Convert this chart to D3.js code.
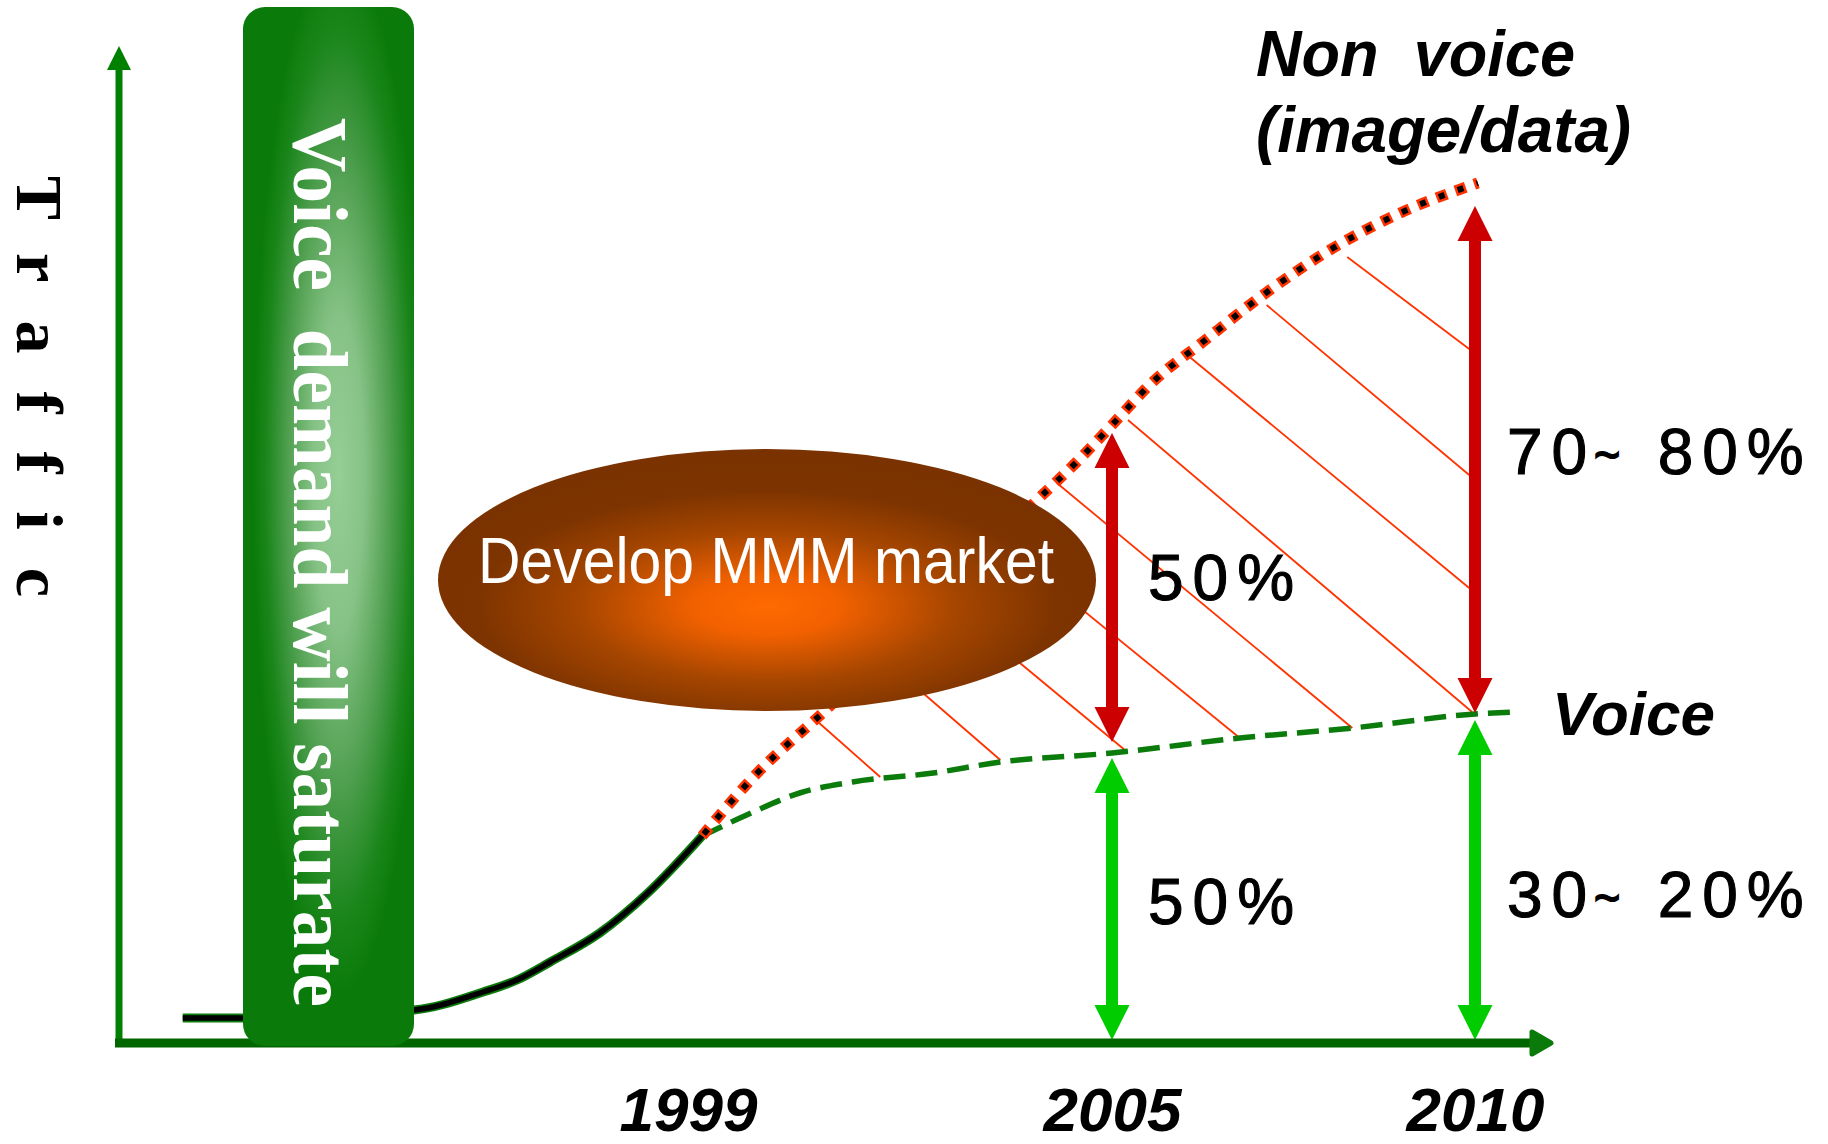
<!DOCTYPE html>
<html>
<head>
<meta charset="utf-8">
<script src="https://cdn.jsdelivr.net/npm/d3@7"></script>
<style>
  html, body { margin: 0; padding: 0; background: #ffffff; }
  svg { display: block; }
  text { white-space: pre; }
</style>
</head>
<body>
<svg id="chart" width="1828" height="1144"></svg>
<script>
// ---- data -------------------------------------------------------------
// Years marked on the time axis
const tickYears = [1999, 2005, 2010];

// Total traffic up to the split (solid line): [year, traffic]
const totalTraffic = [
  [1991.85, 2.5], [1992.7, 2.5], [1995.12, 3.3], [1996.1, 5.1], [1996.58, 6.3],
  [1997.05, 8.1], [1997.75, 11.0], [1998.43, 15.0], [1999.2, 20.7]
];

// Non-voice (image/data) traffic forecast
const nonVoice = [
  [1999.2, 20.7], [1999.98, 27.0], [2000.92, 33.1], [2003.91, 54.1], [2004.5, 58.1],
  [2005.0, 61.8], [2005.56, 66.1], [2006.25, 70.1], [2007.08, 74.8], [2008.0, 79.3],
  [2008.97, 83.0], [2010.04, 86.0]
];

// Voice traffic forecast
const voice = [
  [1999.2, 20.7], [1999.83, 22.8], [2000.58, 25.0], [2001.33, 26.1], [2002.47, 27.0],
  [2003.42, 28.1], [2005.0, 29.0], [2006.76, 30.5], [2008.31, 31.5], [2010.0, 32.9],
  [2010.52, 33.1]
];

// Hatching between the two forecasts: [[year, traffic], [year, traffic]]
const hatch = [
  [[2000.84, 32.1], [2001.72, 26.6]],
  [[2001.72, 38.7], [2003.42, 28.3]],
  [[2002.57, 44.6], [2005.21, 29.1]],
  [[2003.37, 50.3], [2006.76, 30.5]],
  [[2004.22, 56.0], [2008.31, 31.5]],
  [[2005.22, 62.3], [2009.96, 33.1]],
  [[2006.07, 68.6], [2009.92, 45.5]],
  [[2007.13, 73.8], [2009.92, 56.8]],
  [[2008.24, 78.6], [2009.92, 69.4]]
];

// Share arrows: year, lower end, upper end (traffic units), kind
const shareYears  = [2005, 2010, 2005, 2010];
const shareFrom   = [30.1, 33.0, 0.3, 0.3];
const shareTo     = [61.0, 83.7, 28.5, 32.3];
const shareKind   = ["nonvoice", "nonvoice", "voice", "voice"];
// Share labels and the traffic level of their baselines
const shareLabels = ["50%", "70~ 80%", "50%", "30~ 20%"];
const shareLabelLevel = [44.3, 56.9, 11.9, 12.6];

// ---- scales -----------------------------------------------------------
const svg = d3.select("#chart");
const x = d3.scaleLinear().domain(tickYears).range([688, 1112, 1475]);
const y = d3.scaleLinear().domain([0, 100]).range([1043, 43]);
const axisLeft = 119, axisRight = 1554;

const COL_AXIS_Y = "#008000", COL_AXIS_X = "#006600";
const COL_HATCH = "#ff3300", COL_RED = "#cc0000", COL_GREEN = "#00cc00";
const COL_LINE_G = "#0b7b0b";

// ---- gradients --------------------------------------------------------
const defs = svg.append("defs");
const gEll = defs.append("radialGradient").attr("id", "ellFill")
  .attr("cx", 0.5).attr("cy", 0.6).attr("r", 0.55);
[[0, "#ff6a00"], [0.2, "#f26100"], [0.52, "#a64600"], [0.8, "#7e3400"], [1, "#7a3200"]]
  .forEach(([o, c]) => gEll.append("stop").attr("offset", o).attr("stop-color", c));

const gBar = defs.append("radialGradient").attr("id", "barFill")
  .attr("cx", 0.56).attr("cy", 0.45).attr("r", 0.5);
[[0, "#96ce96"], [0.3, "#86c286"], [0.6, "#4f9f4f"], [0.85, "#1b861b"], [1, "#0a7b0a"]]
  .forEach(([o, c]) => gBar.append("stop").attr("offset", o).attr("stop-color", c));

// ---- hatching ---------------------------------------------------------
svg.append("g").selectAll("line").data(hatch).join("line")
  .attr("x1", d => x(d[0][0])).attr("y1", d => y(d[0][1]))
  .attr("x2", d => x(d[1][0])).attr("y2", d => y(d[1][1]))
  .attr("stroke", COL_HATCH).attr("stroke-width", 1.8);

// ---- series lines -----------------------------------------------------
const line = d3.line().x(d => x(d[0])).y(d => y(d[1])).curve(d3.curveMonotoneX);

svg.append("path").attr("d", line(voice))
  .attr("fill", "none").attr("stroke", COL_LINE_G).attr("stroke-width", 5.5)
  .attr("stroke-dasharray", "22 10");

svg.append("path").attr("d", line(nonVoice))
  .attr("fill", "none").attr("stroke", COL_HATCH).attr("stroke-width", 11)
  .attr("stroke-dasharray", "11 9");
svg.append("path").attr("d", line(nonVoice))
  .attr("fill", "none").attr("stroke", "#000").attr("stroke-width", 6)
  .attr("stroke-dasharray", "6 14").attr("stroke-dashoffset", -2.5);

svg.append("path").attr("d", line(totalTraffic))
  .attr("fill", "none").attr("stroke", COL_LINE_G).attr("stroke-width", 9);
svg.append("path").attr("d", line(totalTraffic))
  .attr("fill", "none").attr("stroke", "#000").attr("stroke-width", 5.5);

// ---- "Develop MMM market" ellipse -------------------------------------
svg.append("ellipse").attr("cx", 767).attr("cy", 580).attr("rx", 329).attr("ry", 131)
  .attr("fill", "url(#ellFill)");
svg.append("text").attr("x", 766).attr("y", 583)
  .attr("text-anchor", "middle")
  .attr("font-family", "'Liberation Sans', Arial, sans-serif")
  .attr("font-size", 64).attr("fill", "#fff")
  .attr("textLength", 576).attr("lengthAdjust", "spacingAndGlyphs")
  .text("Develop MMM market");

// ---- share arrows -----------------------------------------------------
function doubleArrow(xc, yTop, yBot) {
  const s = 6, h = 17.5, L = 35;
  return `M${xc},${yTop}L${xc + h},${yTop + L}L${xc + s},${yTop + L}` +
         `L${xc + s},${yBot - L}L${xc + h},${yBot - L}L${xc},${yBot}` +
         `L${xc - h},${yBot - L}L${xc - s},${yBot - L}L${xc - s},${yTop + L}` +
         `L${xc - h},${yTop + L}Z`;
}
svg.append("g").selectAll("path").data(d3.range(shareYears.length)).join("path")
  .attr("d", i => doubleArrow(x(shareYears[i]), y(shareTo[i]), y(shareFrom[i])))
  .attr("fill", i => shareKind[i] === "voice" ? COL_GREEN : COL_RED);

// share labels
const shareText = svg.append("g")
  .attr("font-family", "'Liberation Sans', Arial, sans-serif")
  .attr("font-size", 64).attr("fill", "#000")
  .attr("stroke", "#000").attr("stroke-width", 1.1)
  .attr("letter-spacing", 9)
  .selectAll("text").data(d3.range(shareLabels.length)).join("text")
  .attr("x", i => x(shareYears[i]) + (shareYears[i] === 2005 ? 36 : 32))
  .attr("y", i => y(shareLabelLevel[i]));
shareText.each(function (i) {
  const t = d3.select(this), parts = shareLabels[i].split("~");
  if (parts.length === 1) { t.text(parts[0]); return; }
  t.append("tspan").text(parts[0]);
  t.append("tspan").attr("font-size", 44).attr("dy", -4).attr("dx", -2)
    .attr("stroke-width", 2).text("~");
  t.append("tspan").attr("dy", 4).attr("dx", 2).text(parts[1]);
});

// ---- axes -------------------------------------------------------------
// vertical axis with arrow head
svg.append("line").attr("x1", axisLeft).attr("x2", axisLeft)
  .attr("y1", y(0) + 4).attr("y2", y.range()[1] + 26)
  .attr("stroke", COL_AXIS_Y).attr("stroke-width", 7);
svg.append("path")
  .attr("d", `M${axisLeft},${y.range()[1] + 3}L${axisLeft + 12},${y.range()[1] + 27}L${axisLeft - 12},${y.range()[1] + 27}Z`)
  .attr("fill", COL_AXIS_Y);

// horizontal axis with arrow head
svg.append("line").attr("x1", axisLeft - 4).attr("x2", axisRight - 20)
  .attr("y1", y(0)).attr("y2", y(0))
  .attr("stroke", COL_AXIS_X).attr("stroke-width", 9);
svg.append("path")
  .attr("d", `M${axisRight - 3},${y(0)}L${axisRight - 22},${y(0) - 11}L${axisRight - 22},${y(0) + 11}Z`)
  .attr("fill", "#0a7a0a").attr("stroke", "#0a7a0a").attr("stroke-width", 5)
  .attr("stroke-linejoin", "round");

// year ticks
const xAxis = svg.append("g").attr("transform", `translate(0,${y(0)})`)
  .call(d3.axisBottom(x).tickValues(tickYears).tickSize(0).tickFormat(d3.format("d")));
xAxis.select(".domain").remove();
xAxis.selectAll("text")
  .attr("y", 88).attr("dy", null)
  .attr("font-family", "'Liberation Sans', Arial, sans-serif")
  .attr("font-size", 62).attr("font-weight", "bold").attr("font-style", "italic")
  .attr("fill", "#000");

// ---- saturation bar ---------------------------------------------------
svg.append("rect").attr("x", 243).attr("y", 7).attr("width", 171).attr("height", 1039)
  .attr("rx", 22).attr("ry", 22).attr("fill", "url(#barFill)");
svg.append("text")
  .attr("transform", "translate(294,118) rotate(90)")
  .attr("font-family", "'Liberation Serif', 'Times New Roman', serif")
  .attr("font-weight", "bold").attr("font-size", 78).attr("fill", "#fff")
  .attr("textLength", 889).attr("lengthAdjust", "spacingAndGlyphs")
  .text("Voice  demand will saturate");

// ---- axis title and series names --------------------------------------
svg.append("text")
  .attr("transform", "translate(17,176) rotate(90)")
  .attr("font-family", "'Liberation Serif', 'Times New Roman', serif")
  .attr("font-weight", "bold").attr("font-size", 66).attr("letter-spacing", 38)
  .attr("fill", "#000").text("Traffic");

const nameFont = "'Liberation Sans', Arial, sans-serif";
svg.append("text").attr("x", 1256).attr("y", 76)
  .attr("font-family", nameFont).attr("font-size", 64)
  .attr("font-weight", "bold").attr("font-style", "italic")
  .attr("textLength", 319).attr("lengthAdjust", "spacingAndGlyphs")
  .text("Non  voice");
svg.append("text").attr("x", 1256).attr("y", 152)
  .attr("font-family", nameFont).attr("font-size", 64)
  .attr("font-weight", "bold").attr("font-style", "italic")
  .attr("textLength", 375).attr("lengthAdjust", "spacingAndGlyphs")
  .text("(image/data)");
svg.append("text").attr("x", 1552).attr("y", 735)
  .attr("font-family", nameFont).attr("font-size", 62)
  .attr("font-weight", "bold").attr("font-style", "italic")
  .attr("textLength", 163).attr("lengthAdjust", "spacingAndGlyphs")
  .text("Voice");
</script>
</body>
</html>
